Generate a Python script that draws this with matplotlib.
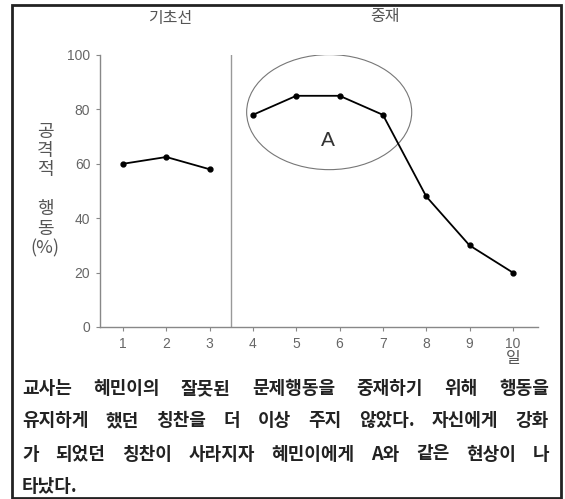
import matplotlib
matplotlib.use("Agg")
import matplotlib.pyplot as plt
from matplotlib.patches import Ellipse, Rectangle

plt.rcParams["font.family"] = ["Noto Sans CJK KR", "DejaVu Sans"]

W, H = 565, 499

# 데이터
baseline_days = [1, 2, 3]
baseline_vals = [60, 62.5, 58]
treat_days = [4, 5, 6, 7, 8, 9, 10]
treat_vals = [78, 85, 85, 78, 48, 30, 20]
x_ticks = [1, 2, 3, 4, 5, 6, 7, 8, 9, 10]
y_ticks = [0, 20, 40, 60, 80, 100]
phase_names = ["기초선", "중재"]
ylabel_top = "공\n격\n적"
ylabel_bottom = "행\n동\n(%)"
x_unit = "일"
circle_label = "A"
body_lines = [
    "교사는 혜민이의 잘못된 문제행동을 중재하기 위해 행동을",
    "유지하게 했던 칭찬을 더 이상 주지 않았다. 자신에게 강화",
    "가 되었던 칭찬이 사라지자 혜민이에게 A와 같은 현상이 나",
    "타났다.",
]

GRAY = "#666666"


def px(x, y):
    return x / W, 1 - y / H


fig = plt.figure(figsize=(W / 100, H / 100), dpi=100)

# 그래프 영역
l, b = px(100, 327)
r, t = px(538, 55)
ax = fig.add_axes([l, b, r - l, t - b])
ax.set_xlim(0.47, 10.58)
ax.set_ylim(0, 100)
for s in ["top", "right"]:
    ax.spines[s].set_visible(False)
for s in ["left", "bottom"]:
    ax.spines[s].set_color("#888888")
    ax.spines[s].set_linewidth(1.0)
ax.set_xticks(x_ticks)
ax.set_yticks(y_ticks)
ax.tick_params(colors="#888888", length=3, width=0.8, labelcolor=GRAY, labelsize=10, pad=4)
for lab in ax.get_xticklabels() + ax.get_yticklabels():
    lab.set_family("Liberation Sans")

ax.plot(baseline_days, baseline_vals, color="black", lw=1.3, marker="o", ms=3.5)
ax.plot(treat_days, treat_vals, color="black", lw=1.3, marker="o", ms=3.5)

# 단계 구분선
ax.plot([3.5, 3.5], [0, 100], color="#999999", lw=1.0)

# A 표시 타원
ax.add_patch(Ellipse((5.76, 79), 3.81, 42.3, fill=False, edgecolor="#777777", lw=0.8))
ax.text(5.73, 68.5, circle_label, fontsize=15, color="#333333", ha="center", va="center",
        family="Liberation Sans")

# 제목과 축 이름
fig.text(*px(170, 18), phase_names[0], fontsize=11.5, color="#555555", ha="center", va="center")
fig.text(*px(385, 16), phase_names[1], fontsize=11.5, color="#555555", ha="center", va="center")
fig.text(*px(45, 151), ylabel_top, fontsize=13, color="#555555", ha="center", va="center",
         linespacing=1.1)
fig.text(*px(45, 229), ylabel_bottom, fontsize=13, color="#555555", ha="center", va="center",
         linespacing=1.1)
fig.text(*px(513, 359), x_unit, fontsize=11.5, color="#555555", ha="center", va="center")

# 본문 (양쪽 정렬)
renderer = fig.canvas.get_renderer()
x_left, x_right = 22, 549
line_y = [389, 421, 454, 486]
body_kw = dict(fontsize=13, color="#222222", va="center", ha="left", fontweight="bold")
for i, line in enumerate(body_lines):
    words = line.split(" ")
    y = line_y[i]
    if i == len(body_lines) - 1:
        fig.text(*px(x_left, y), line, **body_kw)
        continue
    texts = [fig.text(0, 0, w, **body_kw) for w in words]
    widths = [tx.get_window_extent(renderer=renderer).width for tx in texts]
    gap = (x_right - x_left - sum(widths)) / (len(words) - 1)
    xpos = x_left
    for tx, wdt in zip(texts, widths):
        tx.set_position(px(xpos, y))
        xpos += wdt + gap

# 바깥 테두리
x0, y0 = px(12, 498)
x1, y1 = px(561, 5)
fig.add_artist(Rectangle((x0, y0), x1 - x0, y1 - y0, transform=fig.transFigure,
                         fill=False, edgecolor="#222222", lw=2))

fig.savefig("out.png", dpi=100)
